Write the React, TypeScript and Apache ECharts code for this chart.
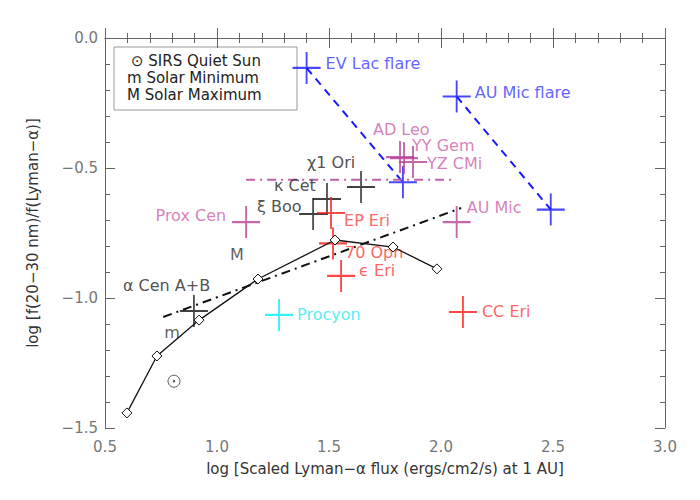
import React, { useEffect, useRef } from "react";
import * as echarts from "echarts";

// ---- data ----
const X_MIN = 0.5, X_MAX = 3.0, Y_MIN = -1.5, Y_MAX = 0.0, STEP = 0.5;

const sunCycleX = [0.598, 0.732, 0.92, 1.183, 1.527, 1.786, 1.982];
const sunCycleY = [-1.442, -1.223, -1.085, -0.927, -0.777, -0.804, -0.888];

const fitLineX = [0.76, 2.09];
const fitLineY = [-1.073, -0.654];

const dMeLineX = [1.13, 2.06];
const dMeLineY = [-0.545, -0.545];

const flareNames = ["EV Lac flare", "AU Mic flare", "", " "];
const flareX = [1.40, 2.07, 1.83, 2.49];
const flareY = [-0.115, -0.225, -0.555, -0.66];

const dMeNames = ["AD Leo", "YY Gem", "YZ CMi", "AU Mic", "Prox Cen"];
const dMeX = [1.817, 1.835, 1.875, 2.07, 1.13];
const dMeY = [-0.458, -0.462, -0.477, -0.708, -0.708];

const blackNames = ["χ1 Ori", "κ Cet", "ξ Boo", "α Cen A+B"];
const blackX = [1.643, 1.491, 1.429, 0.897];
const blackY = [-0.573, -0.619, -0.677, -1.05];

const redNames = ["EP Eri", "70 Oph", "ϵ Eri", "CC Eri"];
const redX = [1.509, 1.518, 1.554, 2.098];
const redY = [-0.673, -0.79, -0.915, -1.054];

const cyanNames = ["Procyon"];
const cyanX = [1.277];
const cyanY = [-1.065];

const sunX = [0.808];
const sunY = [-1.32];

const noteNames = ["m", "M"];
const noteX = [0.799, 1.089];
const noteY = [-1.131, -0.831];

const legendLines = ["⊙ SIRS Quiet Sun", "m Solar Minimum", "M Solar Maximum"];

// ---- label placement (pixels, relative to the mark centre) ----
const labelPlace: Record<string, [number, number, string]> = {
  "EV Lac flare": [19, -4, "left"],
  "AU Mic flare": [18, -4, "left"],
  "AD Leo": [-27, -28, "left"],
  "YY Gem": [8, -13, "left"],
  "YZ CMi": [14, 1, "left"],
  "AU Mic": [10, -15, "left"],
  "Prox Cen": [-20, -7, "right"],
  "χ1 Ori": [-54, -24, "left"],
  "κ Cet": [-53, -13, "left"],
  "ξ Boo": [-56, -8, "left"],
  "α Cen A+B": [-71, -26, "left"],
  "EP Eri": [13, 8, "left"],
  "70 Oph": [12, 9, "left"],
  "ϵ Eri": [18, -5, "left"],
  "Procyon": [18, 0, "left"],
  "CC Eri": [19, -1, "left"],
};

const FONT = "DejaVu Sans";
const CROSS = "path://M14,0L14,32M0,16L28,16";

function zip(xs: number[], ys: number[]) {
  return xs.map((x, i) => [x, ys[i]]);
}

function crossSeries(names: string[], xs: number[], ys: number[], stroke: string, text: string, w = 2) {
  return {
    type: "scatter",
    symbol: CROSS,
    symbolSize: [28, 32],
    itemStyle: { color: "none", borderColor: stroke, borderWidth: w },
    z: 5,
    data: names.map((n, i) => {
      const p = labelPlace[n];
      return {
        name: n,
        value: [xs[i], ys[i]],
        label: p
          ? {
              show: true,
              position: "inside",
              formatter: "{b}",
              align: p[2],
              verticalAlign: "middle",
              offset: [p[0], p[1]],
              color: text,
              fontSize: 16,
              fontFamily: FONT,
            }
          : { show: false },
      };
    }),
  };
}

const fmt = (v: number) => (v < 0 ? "−" : "") + Math.abs(v).toFixed(1);

function axisCommon(showLabel: boolean) {
  return {
    type: "value",
    interval: STEP,
    axisLine: { show: true, lineStyle: { color: "#666", width: 1 } },
    axisTick: { show: true, inside: true, length: 10, lineStyle: { color: "#666" } },
    minorTick: { show: true, splitNumber: 5, length: 5, lineStyle: { color: "#666" } },
    splitLine: { show: false },
    axisLabel: { show: showLabel, formatter: fmt, color: "#777", fontSize: 15, fontFamily: FONT },
  };
}

export default function App() {
  const ref = useRef<HTMLDivElement>(null);
  useEffect(() => {
    if (!ref.current) return;
    const chart = echarts.init(ref.current, undefined, { renderer: "svg" });
    const option: any = {
      animation: false,
      backgroundColor: "#fff",
      textStyle: { fontFamily: FONT },
      grid: { left: 105, right: 35, top: 38, bottom: 72 },
      xAxis: [
        {
          ...axisCommon(true),
          min: X_MIN,
          max: X_MAX,
          position: "bottom",
          axisLabel: { ...axisCommon(true).axisLabel, margin: 11 },
          name: "log [Scaled Lyman−α flux (ergs/cm2/s) at 1 AU]",
          nameLocation: "middle",
          nameGap: 33,
          nameTextStyle: { color: "#333", fontSize: 15, fontFamily: FONT },
        },
        { ...axisCommon(false), min: X_MIN, max: X_MAX, position: "top" },
      ],
      yAxis: [
        {
          ...axisCommon(true),
          min: Y_MIN,
          max: Y_MAX,
          position: "left",
          axisLabel: { ...axisCommon(true).axisLabel, margin: 7 },
          name: "log [f(20−30 nm)/f(Lyman−α)]",
          nameLocation: "middle",
          nameGap: 65,
          nameTextStyle: { color: "#333", fontSize: 15, fontFamily: FONT },
        },
        { ...axisCommon(false), min: Y_MIN, max: Y_MAX, position: "right" },
      ],
      graphic: [
        {
          type: "rect",
          z: 0,
          shape: { x: 114, y: 47, width: 183, height: 63 },
          style: { fill: "#fff", stroke: "#999", lineWidth: 1 },
        },
        ...legendLines.map((t, i) => ({
          type: "text",
          z: 1,
          x: i === 0 ? 131 : 127,
          y: 61 + i * 17,
          style: { text: t, fill: "#222", font: `15px '${FONT}'`, verticalAlign: "middle" },
        })),
      ],
      series: [
        {
          type: "line",
          data: zip([flareX[0], flareX[2]], [flareY[0], flareY[2]]),
          symbol: "none",
          lineStyle: { color: "#1a1aff", width: 2, type: [8, 6] },
          z: 3,
        },
        {
          type: "line",
          data: zip([flareX[1], flareX[3]], [flareY[1], flareY[3]]),
          symbol: "none",
          lineStyle: { color: "#1a1aff", width: 2, type: [8, 6] },
          z: 3,
        },
        {
          type: "line",
          data: zip(dMeLineX, dMeLineY),
          symbol: "none",
          lineStyle: { color: "#c060a8", width: 2, type: [9, 5, 2, 5] },
          z: 3,
        },
        {
          type: "line",
          data: zip(fitLineX, fitLineY),
          symbol: "none",
          lineStyle: { color: "#111", width: 2, type: [9, 5, 2, 5] },
          z: 3,
        },
        {
          type: "line",
          data: zip(sunCycleX, sunCycleY),
          symbol: "diamond",
          symbolSize: 10,
          showAllSymbol: true,
          itemStyle: { color: "#fff", borderColor: "#111", borderWidth: 1 },
          lineStyle: { color: "#111", width: 1.3 },
          z: 6,
        },
        crossSeries(flareNames, flareX, flareY, "#1a1aff", "#3a3aff"),
        crossSeries(dMeNames, dMeX, dMeY, "#b84096", "#cc60aa"),
        crossSeries(blackNames, blackX, blackY, "#111", "#222", 1.8),
        crossSeries(redNames, redX, redY, "#ff1a1a", "#ff3b3b"),
        crossSeries(cyanNames, cyanX, cyanY, "#00f0f8", "#30e8f0"),
        {
          type: "scatter",
          data: zip(sunX, sunY),
          symbol: "circle",
          symbolSize: 12,
          itemStyle: { color: "none", borderColor: "#333", borderWidth: 1 },
          z: 5,
        },
        {
          type: "scatter",
          data: zip(sunX, sunY),
          symbol: "circle",
          symbolSize: 2.5,
          itemStyle: { color: "#333" },
          z: 5,
        },
        {
          type: "scatter",
          symbolSize: 0,
          z: 5,
          data: noteNames.map((n, i) => ({ name: n, value: [noteX[i], noteY[i]] })),
          label: {
            show: true,
            position: "inside",
            formatter: "{b}",
            align: "center",
            verticalAlign: "middle",
            color: "#333",
            fontSize: 16,
            fontFamily: FONT,
          },
        },
      ],
    };
    chart.setOption(option);
    return () => chart.dispose();
  }, []);
  return (
    <div
      ref={ref}
      style={{ position: "fixed", left: 0, top: 0, width: 700, height: 500 }}
    />
  );
}
